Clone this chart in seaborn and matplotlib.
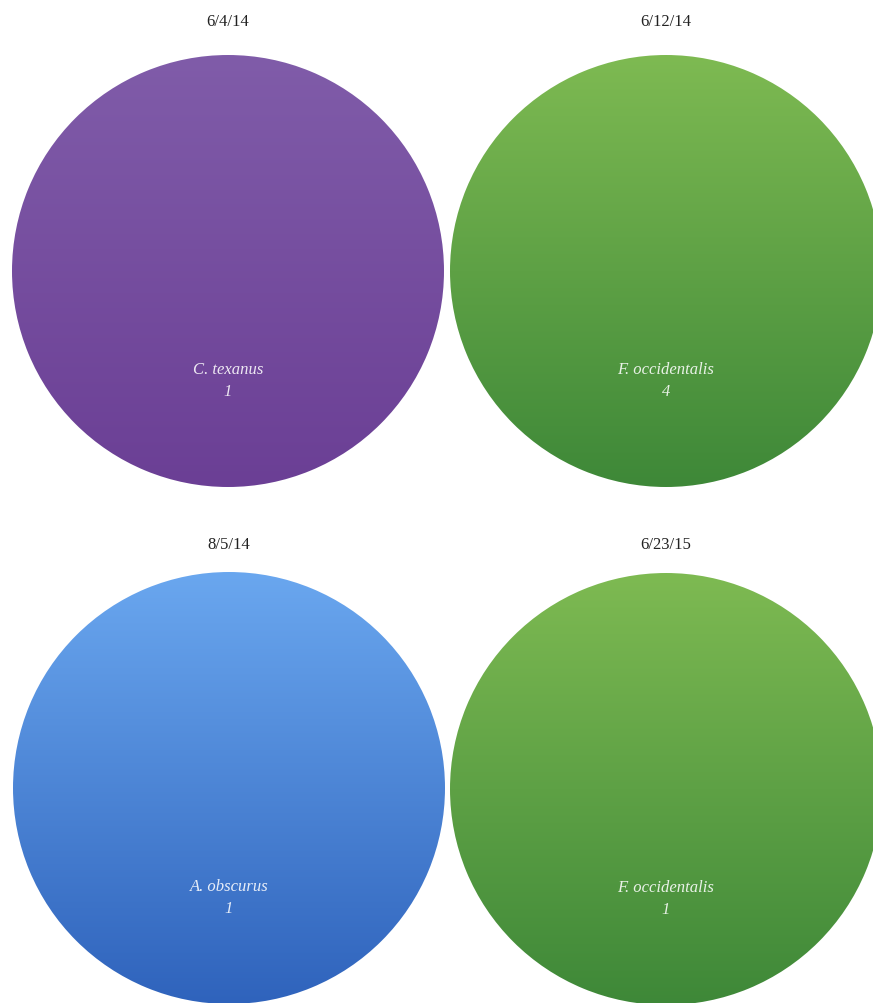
import numpy as np
import matplotlib
matplotlib.use("Agg")
import matplotlib.pyplot as plt
import seaborn as sns
from matplotlib.colors import to_rgb

sns.set_theme(style="white")
plt.rcParams['font.family'] = ['Liberation Serif', 'DejaVu Serif']

dates = ["6/4/14", "6/12/14", "8/5/14", "6/23/15"]
species = ["C. texanus", "F. occidentalis", "A. obscurus", "F. occidentalis"]
counts = [1, 4, 1, 1]
top_colors = ["#805ca9", "#7eba52", "#6aa7ef", "#7eba52"]
bottom_colors = ["#6b3f95", "#3e8838", "#2f63bc", "#3e8838"]

W, H = 873, 1004
fig = plt.figure(figsize=(W / 100, H / 100), dpi=100)

# pixel centers and radius of each pie (layout)
centers = [(228, 272), (666, 272), (229, 789), (666, 790)]
radius = 216
title_y = [22, 22, 545, 545]

for i in range(4):
    cx, cy = centers[i]
    left = (cx - radius) / W
    bottom = 1 - (cy + radius) / H
    ax = fig.add_axes([left, bottom, 2 * radius / W, 2 * radius / H])
    wedges, texts = ax.pie([counts[i]], labels=[f"{species[i]}\n{counts[i]}"],
                           startangle=90, labeldistance=0.505, radius=1,
                           wedgeprops=dict(linewidth=0),
                           textprops=dict(color="white", alpha=0.88, fontsize=12,
                                          style="italic", ha="center", va="center",
                                          linespacing=1.55))
    wedges[0].set_facecolor("none")
    c1 = np.array(to_rgb(top_colors[i]))
    c2 = np.array(to_rgb(bottom_colors[i]))
    t = np.linspace(0, 1, 256)[:, None, None]
    grad = c1 * (1 - t) + c2 * t
    im = ax.imshow(grad, extent=(-1, 1, -1, 1), origin="upper", aspect="auto", zorder=0)
    im.set_clip_path(wedges[0])
    ax.set_xlim(-1, 1)
    ax.set_ylim(-1, 1)
    ax.set_aspect("equal")
    ax.axis("off")
    fig.text(cx / W, 1 - title_y[i] / H, dates[i], ha="center", va="center",
             fontsize=12, color="#222222")

fig.savefig("out.png", dpi=100)
